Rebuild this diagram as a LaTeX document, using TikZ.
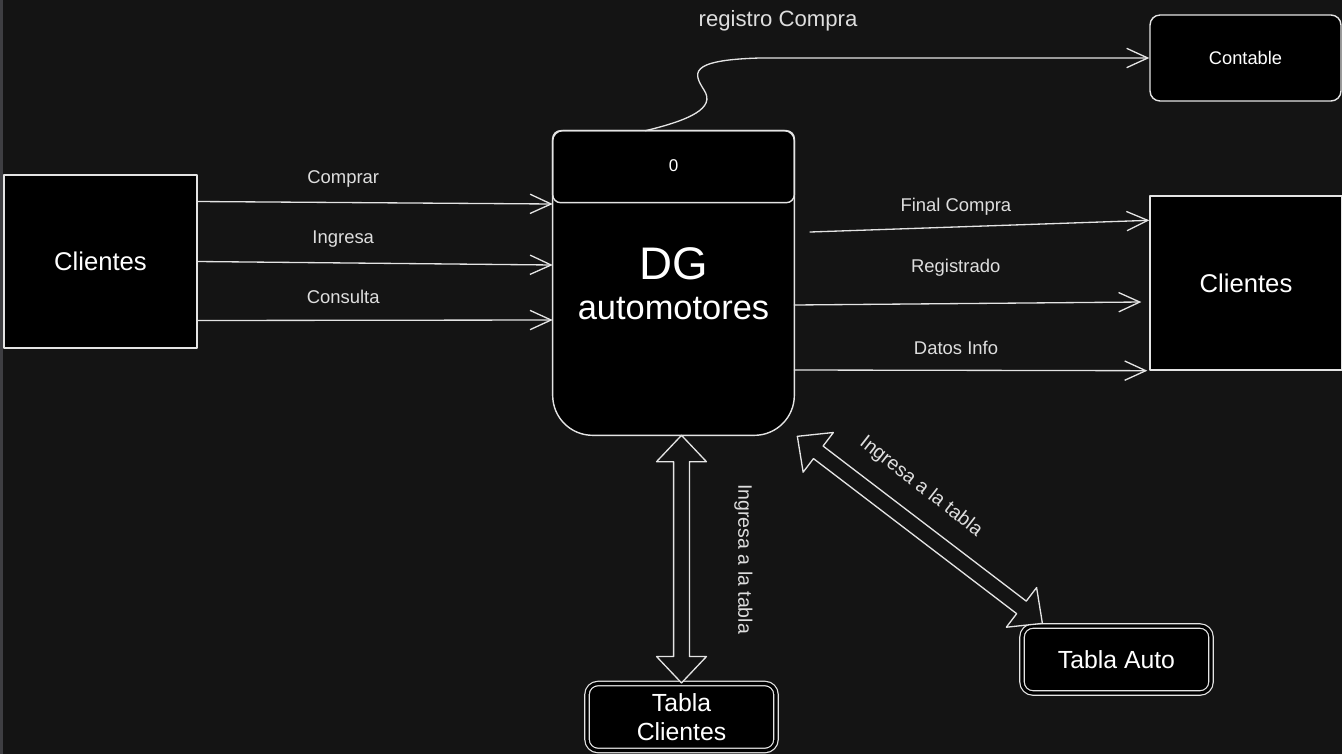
\documentclass[tikz,border=0pt]{standalone}
\usepackage{fontspec}
\setmainfont{Liberation Sans}
\usetikzlibrary{calc,arrows.meta}
\definecolor{bgdark}{RGB}{20,20,20}
\definecolor{edgegray}{RGB}{62,62,66}
\definecolor{linegray}{RGB}{228,228,228}
\definecolor{txtgray}{RGB}{222,222,222}
% flecha doble (flujo con la tabla)
\newcommand{\dflow}[2]{%
  \path let \p1=($(#2)-(#1)$) in \pgfextra{%
    \pgfmathsetmacro\dflowang{atan2(\y1,\x1)}\global\let\dflowang\dflowang
    \pgfmathsetlengthmacro\dflowlen{veclen(\x1,\y1)}\global\let\dflowlen\dflowlen};
  \draw[dflowline, shift={(#1)}, rotate=\dflowang] (0pt,0pt) -- (15pt,14.2pt) -- (15pt,4.5pt)
    -- (\dflowlen-15pt,4.5pt) -- (\dflowlen-15pt,14.2pt) -- (\dflowlen,0pt)
    -- (\dflowlen-15pt,-14.2pt) -- (\dflowlen-15pt,-4.5pt) -- (15pt,-4.5pt) -- (15pt,-14.2pt) -- cycle;}
\begin{document}
\begin{tikzpicture}[x=0.02cm, y=-0.02cm, line join=round, line cap=round,
	ent/.style={draw=linegray, fill=black, line width=0.8pt, inner sep=0pt, text=white, font=\fontsize{14.6}{17}\selectfont},
	tabla/.style={draw=linegray, double=black, double distance=1.8pt, line width=0.7pt, fill=black, rounded corners=0.22cm,
		minimum width=3.78cm, minimum height=1.34cm, inner sep=0pt, align=center, text=white, font=\fontsize{14.1}{16.5}\selectfont},
	flow/.style={draw=linegray, line width=0.75pt, -{Straight Barb[length=12pt,width=11pt]}},
	dflowline/.style={draw=linegray, line width=0.75pt, fill=bgdark},
	lbl/.style={text=txtgray, font=\fontsize{10.5}{12.6}\selectfont}]
	\useasboundingbox[fill=bgdark] (0,0) rectangle (1342,754);
	\fill[edgegray] (0,0) rectangle (3,754);
	% entidades
	\node[ent, minimum width=3.86cm, minimum height=3.46cm] (lcli) at (100.5,261.5) {Clientes};
	\node[ent, minimum width=3.84cm, minimum height=3.48cm] (rcli) at (1246,283) {Clientes};
	\node[ent, rounded corners=0.2cm, minimum width=3.82cm, minimum height=1.72cm, font=\fontsize{10.4}{12}\selectfont] (cont) at (1245.5,58) {Contable};
	\node[tabla] (tcli) at (681.5,717) {Tabla\\Clientes};
	\node[tabla] (tauto) at (1116.5,659.5) {Tabla Auto};
	% proceso
	\node[minimum width=4.82cm, minimum height=6.08cm, inner sep=0pt] (proc) at (673.5,283) {};
	\draw[draw=linegray, fill=black, line width=0.8pt] (proc.west) [rounded corners=0.2cm] -- (proc.north west) -- (proc.north east)
		-- (proc.east) [rounded corners=0.8cm] -- (proc.south east) -- (proc.south west) -- cycle;
	\draw[draw=linegray, line width=0.8pt, rounded corners=0.16cm] (proc.north west) rectangle ($(proc.north east)+(0,72)$);
	\node[text=white, font=\fontsize{9.7}{11}\selectfont] (pnum) at ($(proc.north)+(0,35)$) {0};
	\node[anchor=base, text=white, font=\fontsize{26}{30}\selectfont] (pdg) at ($(proc.center)+(0,-4)$) {DG};
	\node[anchor=base, text=white, font=\fontsize{19.6}{23}\selectfont] (pauto) at ($(proc.center)+(0,36)$) {automotores};
	% flujos de entrada
	\draw[flow] ($(lcli.east)+(0,-60)$) -- node[lbl, pos=0.41, yshift=13.6pt] {Comprar} ($(proc.west)+(0,-79)$);
	\draw[flow] (lcli.east) -- node[lbl, pos=0.41, yshift=13.6pt] {Ingresa} ($(proc.west)+(0,-18)$);
	\draw[flow] ($(lcli.east)+(0,59)$) -- node[lbl, pos=0.41, yshift=13.6pt] {Consulta} ($(proc.west)+(0,37)$);
	% flujos de salida
	\coordinate (fcstart) at (810,232);
	\draw[flow] (fcstart) -- node[lbl, pos=0.43, yshift=11.6pt] {Final Compra} ($(rcli.north west)+(0,25)$);
	\draw[flow] ($(proc.east)+(0,22)$) -- node[lbl, pos=0.465, yshift=20.5pt] {Registrado} ($(rcli.west)+(-8,19)$);
	\draw[flow] ($(proc.east)+(0,87)$) -- node[lbl, pos=0.458, yshift=13pt] {Datos Info} ($(rcli.south west)+(-2,0)$);
	\draw[flow] ($(proc.north)+(-28,0)$) .. controls (690,120) and (716,108) .. (704,90)
		.. controls (694,74) and (686,60) .. (760,58) -- (cont.west);
	\node[lbl, font=\fontsize{12.6}{15}\selectfont] (reglbl) at (778,21) {registro Compra};
	% tablas
	\coordinate (tcA) at (proc.south -| tcli.north);
	\coordinate (taA) at ($(proc.south east)+(3,1)$);
	\coordinate (taB) at ($(tauto.north west)+(21,-2)$);
	\dflow{tcA}{tcli.north}
	\dflow{taA}{taB}
	\node[lbl, rotate=-90, font=\fontsize{11.1}{13}\selectfont] (tclbl) at ($(tcA)!0.5!(tcli.north)+(62,0)$) {Ingresa a la tabla};
	\node[lbl, rotate=-38, font=\fontsize{11.1}{13}\selectfont] (talbl) at ($(taA)!0.5!(taB)+(1,-43)$) {Ingresa a la tabla};
\end{tikzpicture}
\end{document}
